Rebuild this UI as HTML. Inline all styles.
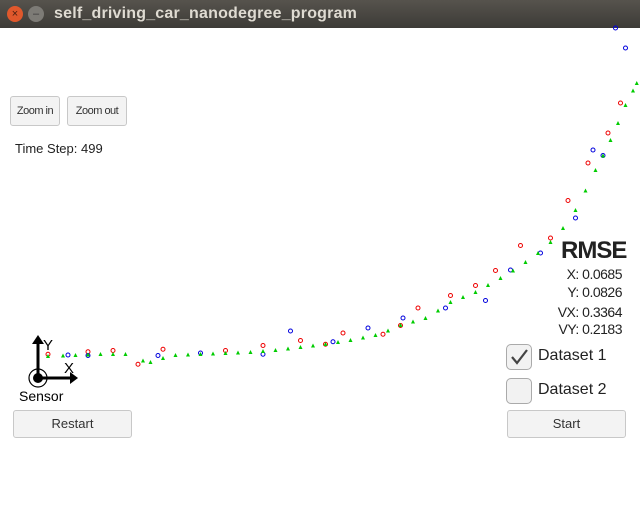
<!DOCTYPE html>
<html><head><meta charset="utf-8"><style>
body{margin:0;width:640px;height:508px;overflow:hidden;background:#fff;font-family:"Liberation Sans",sans-serif;position:relative}
.tb{position:absolute;left:0;top:0;width:640px;height:28px;background:linear-gradient(#56534d,#3d3b37);}
.title{position:absolute;left:54px;top:5px;color:#dfdbd2;font-weight:bold;font-size:16px;letter-spacing:0.2px}
.wb{position:absolute;top:6px;width:16px;height:16px;border-radius:50%;font-size:11px;line-height:16px;text-align:center}
.btn{position:absolute;background:#f3f3f3;border:1px solid #c8c8c8;border-radius:3px;text-align:center;color:#333;font-size:13px;box-sizing:border-box}
.cb{position:absolute;width:26px;height:26px;border:1px solid #aaa;border-radius:5px;background:#f2f2f2;box-sizing:border-box}
.t{position:absolute;color:#222}
</style></head><body>
<div class="tb"></div>
<div class="wb" style="left:7px;background:#e0582c;color:#4a2010">×</div>
<div class="wb" style="left:28px;background:#7d7b76;color:#3a3a3a">–</div>
<div class="title">self_driving_car_nanodegree_program</div>
<div class="btn" style="left:10px;top:96px;width:50px;height:30px;line-height:28px;font-size:11px;letter-spacing:-0.5px">Zoom in</div>
<div class="btn" style="left:67px;top:96px;width:60px;height:30px;line-height:28px;font-size:11px;letter-spacing:-0.5px">Zoom out</div>
<div class="t" style="left:15px;top:141px;font-size:13px">Time Step: 499</div>
<svg id="plot" width="640" height="508" style="position:absolute;left:0;top:0">
<g>
<line x1="38" y1="378" x2="38" y2="342" stroke="#000" stroke-width="3"/>
<polygon points="32,344 44,344 38,335" fill="#000"/>
<line x1="38" y1="378" x2="72" y2="378" stroke="#000" stroke-width="3"/>
<polygon points="70,372 70,384 78,378" fill="#000"/>
<circle cx="38" cy="378" r="9" fill="none" stroke="#000" stroke-width="1.2"/>
<circle cx="38" cy="378" r="5" fill="#000"/>
<text x="43" y="350" font-size="15" font-family="Liberation Sans">Y</text>
<text x="64" y="373" font-size="15" font-family="Liberation Sans">X</text>
<text x="19" y="401" font-size="14" font-family="Liberation Sans">Sensor</text>
</g>
<g id="marks"></g>
</svg>
<div class="t" style="left:561px;top:237px;font-size:24px;font-weight:bold;letter-spacing:-1px">RMSE</div>
<div class="t" style="right:18px;top:266px;font-size:14px;text-align:right;letter-spacing:-0.5px">X: 0.0685</div>
<div class="t" style="right:18px;top:284px;font-size:14px;letter-spacing:-0.5px">Y: 0.0826</div>
<div class="t" style="right:18px;top:304px;font-size:14px;letter-spacing:-0.5px">VX: 0.3364</div>
<div class="t" style="right:18px;top:321px;font-size:14px;letter-spacing:-0.5px">VY: 0.2183</div>
<div class="cb" style="left:506px;top:344px"><svg width="24" height="24"><polyline points="5,12 10,18 20,5" fill="none" stroke="#444" stroke-width="2.2"/></svg></div>
<div class="t" style="left:538px;top:347px;font-size:16px">Dataset 1</div>
<div class="cb" style="left:506px;top:378px"></div>
<div class="t" style="left:538px;top:381px;font-size:16px">Dataset 2</div>
<div class="btn" style="left:13px;top:410px;width:119px;height:28px;line-height:26px">Restart</div>
<div class="btn" style="left:507px;top:410px;width:119px;height:28px;line-height:26px">Start</div>
<script>
const estX=[0.4,1.0,1.5,2.0,2.5,3.0,3.5,4.2,4.5,5.0,5.5,6.0,6.5,7.0,7.5,8.0,8.5,9.0,9.5,10.0,10.5,11.0,11.5,12.0,12.5,13.0,13.5,14.0,14.5,15.0,15.5,16.0,16.5,17.0,17.5,18.0,18.5,19.0,19.5,20.0,20.5,21.0,21.5,21.9,22.3,22.6,22.9,23.2,23.5,23.8,23.95];
const estY=[0.88,0.9,0.92,0.94,0.96,0.96,0.96,0.7,0.64,0.8,0.92,0.94,0.96,0.98,1.0,1.02,1.04,1.08,1.12,1.18,1.24,1.3,1.36,1.44,1.52,1.62,1.72,1.9,2.12,2.26,2.4,2.7,3.04,3.24,3.44,3.72,4.0,4.3,4.64,5.0,5.44,6.0,6.72,7.5,8.32,8.9,9.52,10.2,10.92,11.5,11.8];
const radX=[0.4,2.0,3.0,4.0,5.0,7.5,9.0,10.5,11.5,12.2,13.8,14.5,15.2,16.5,17.5,18.3,19.3,20.5,21.2,22.0,22.8,23.3];
const radY=[0.95,1.05,1.1,0.55,1.15,1.1,1.3,1.5,1.35,1.8,1.75,2.1,2.8,3.3,3.7,4.3,5.3,5.6,7.1,8.6,9.8,11.0];
const lasX=[1.2,2.0,4.8,6.5,9.0,10.1,11.8,13.2,14.6,16.3,17.9,18.9,20.1,21.5,22.2,22.6,23.1,23.5];
const lasY=[0.92,0.9,0.9,1.0,0.95,1.88,1.45,2.0,2.4,2.8,3.1,4.32,5.0,6.4,9.12,8.9,14.0,13.2];
const ox=38,oy=378,s=25;
const px=v=>ox+v*s, py=v=>oy-v*s;
const g=document.getElementById('marks');
const NS='http://www.w3.org/2000/svg';
radX.forEach((x,i)=>{const c=document.createElementNS(NS,'circle');
c.setAttribute('cx',px(x));c.setAttribute('cy',py(radY[i]));c.setAttribute('r',2);c.setAttribute('fill','none');c.setAttribute('stroke','#e00');c.setAttribute('stroke-width',1);


g.appendChild(c);});
lasX.forEach((x,i)=>{const c=document.createElementNS(NS,'circle');
c.setAttribute('cx',px(x));c.setAttribute('cy',py(lasY[i]));c.setAttribute('r',2);c.setAttribute('fill','none');c.setAttribute('stroke','#00d');c.setAttribute('stroke-width',1);


g.appendChild(c);});
estX.forEach((x,i)=>{const X=px(x),Y=py(estY[i]);const p=document.createElementNS(NS,'polygon');
p.setAttribute('points',`${X-2},${Y+2} ${X+2},${Y+2} ${X},${Y-2}`);p.setAttribute('fill','#0c0');


g.appendChild(p);});
</script>
</body></html>
